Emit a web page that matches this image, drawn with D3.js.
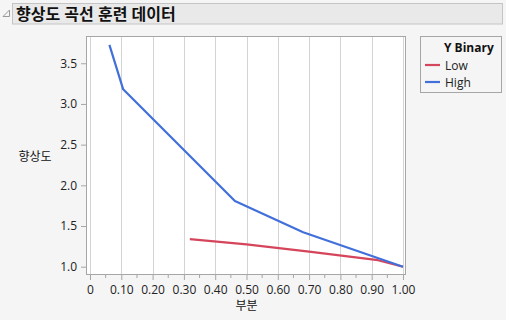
<!DOCTYPE html>
<html>
<head>
<meta charset="utf-8">
<script src="https://cdn.jsdelivr.net/npm/d3@7"></script>
<style>
  body { margin: 0; background: #f5f5f5; }
  text { font-family: "Segoe UI", "Open Sans", "Noto Sans CJK KR", sans-serif; }
</style>
</head>
<body>
<svg id="chart" width="506" height="320"></svg>
<script>
// data
var titleText = "향상도 곡선 훈련 데이터";
var xLabel = "부분";
var yLabel = "향상도";
var legendTitle = "Y Binary";
var seriesNames = ["Low", "High"];
var seriesColors = ["#d5455b", "#4270db"];
var lowX = [0.319, 0.50, 0.70, 0.92, 1.00];
var lowY = [1.338, 1.275, 1.185, 1.08, 1.00];
var highX = [0.062, 0.106, 0.463, 0.681, 1.00];
var highY = [3.725, 3.18, 1.808, 1.424, 1.00];
var xTicks = [0, 0.1, 0.2, 0.3, 0.4, 0.5, 0.6, 0.7, 0.8, 0.9, 1.0];
var yTicks = [1.0, 1.5, 2.0, 2.5, 3.0, 3.5];

var svg = d3.select("#chart");
var frame = {left: 86, top: 36, right: 406, bottom: 275};

var x = d3.scaleLinear().domain([-0.0128, 1.0096]).range([frame.left, frame.right]);
var y = d3.scaleLinear().domain([0.898, 3.835]).range([frame.bottom, frame.top]);

// title bar
svg.append("path")
  .attr("d", "M3,16.5 L9.5,10 L9.5,16.5 Z")
  .attr("fill", "none")
  .attr("stroke", "#999")
  .attr("stroke-width", 1);
svg.append("rect")
  .attr("x", 12.5).attr("y", 3.5).attr("width", 490).attr("height", 20.5)
  .attr("fill", "#e9e9e9").attr("stroke", "#c4c4c4");
svg.append("text")
  .attr("x", 16).attr("y", 20)
  .attr("font-size", 16).attr("font-weight", "bold")
  .attr("font-family", "'Noto Sans CJK KR', sans-serif")
  .attr("fill", "#111")
  .text(titleText);

// plot background
svg.append("rect")
  .attr("x", frame.left).attr("y", frame.top)
  .attr("width", frame.right - frame.left).attr("height", frame.bottom - frame.top)
  .attr("fill", "#fff");

// vertical grid
svg.append("g").selectAll("line").data(xTicks).join("line")
  .attr("x1", d => Math.round(x(d)) + 0.5).attr("x2", d => Math.round(x(d)) + 0.5)
  .attr("y1", frame.top).attr("y2", frame.bottom)
  .attr("stroke", "#d4d4d4").attr("stroke-width", 1);

// frame
svg.append("rect")
  .attr("x", frame.left + 0.5).attr("y", frame.top + 0.5)
  .attr("width", frame.right - frame.left - 1).attr("height", frame.bottom - frame.top - 1)
  .attr("fill", "none").attr("stroke", "#a6a6a6");

// x axis
var xMinor = d3.range(0.05, 1.0, 0.1);
var xAxisG = svg.append("g").attr("transform", "translate(0," + frame.bottom + ")");
xAxisG.call(d3.axisBottom(x).tickValues(xTicks).tickSize(5).tickPadding(5)
  .tickFormat(d => d === 0 ? "0" : d3.format(".2f")(d)));
xAxisG.append("g").selectAll("line").data(xMinor).join("line")
  .attr("x1", d => x(d)).attr("x2", d => x(d)).attr("y1", 0).attr("y2", 3)
  .attr("stroke", "#a6a6a6");
xAxisG.select(".domain").remove();
xAxisG.selectAll(".tick line").attr("stroke", "#a6a6a6");
xAxisG.selectAll("text").attr("font-size", 12).attr("fill", "#222")
  .attr("font-family", "'Segoe UI', 'Open Sans', sans-serif");

// y axis
var yAxisG = svg.append("g").attr("transform", "translate(" + frame.left + ",0)");
yAxisG.call(d3.axisLeft(y).tickValues(yTicks).tickSize(5).tickPadding(4).tickFormat(d3.format(".1f")));
yAxisG.select(".domain").remove();
yAxisG.selectAll(".tick line").attr("stroke", "#a6a6a6");
yAxisG.selectAll("text").attr("font-size", 12).attr("fill", "#222")
  .attr("font-family", "'Segoe UI', 'Open Sans', sans-serif");

// axis labels
svg.append("text")
  .attr("x", x(0.5)).attr("y", 310).attr("text-anchor", "middle")
  .attr("font-size", 12).attr("fill", "#111")
  .attr("font-family", "'Noto Sans CJK KR', sans-serif")
  .text(xLabel);
svg.append("text")
  .attr("x", 35).attr("y", 161).attr("text-anchor", "middle")
  .attr("font-size", 12).attr("fill", "#111")
  .attr("font-family", "'Noto Sans CJK KR', sans-serif")
  .text(yLabel);

// lines
var line = d3.line().x(d => x(d[0])).y(d => y(d[1]));
var series = [
  d3.zip(lowX, lowY),
  d3.zip(highX, highY)
];
svg.append("g").selectAll("path").data(series).join("path")
  .attr("d", line)
  .attr("fill", "none")
  .attr("stroke", (d, i) => seriesColors[i])
  .attr("stroke-width", 2.2)
  .attr("stroke-linejoin", "round");

// legend
var lg = svg.append("g");
lg.append("rect")
  .attr("x", 420.5).attr("y", 36.5).attr("width", 81).attr("height", 56)
  .attr("fill", "#f5f5f5").attr("stroke", "#a6a6a6");
lg.append("text")
  .attr("x", 444).attr("y", 52)
  .attr("font-size", 12).attr("font-weight", "bold").attr("fill", "#111")
  .text(legendTitle);
var items = lg.selectAll("g.item").data(seriesNames).join("g")
  .attr("class", "item")
  .attr("transform", (d, i) => "translate(0," + (65 + i * 17) + ")");
items.append("line")
  .attr("x1", 425).attr("x2", 440).attr("y1", 0).attr("y2", 0)
  .attr("stroke", (d, i) => seriesColors[i]).attr("stroke-width", 2.2);
items.append("text")
  .attr("x", 445).attr("y", 4.5)
  .attr("font-size", 12).attr("fill", "#222")
  .text(d => d);
</script>
</body>
</html>
